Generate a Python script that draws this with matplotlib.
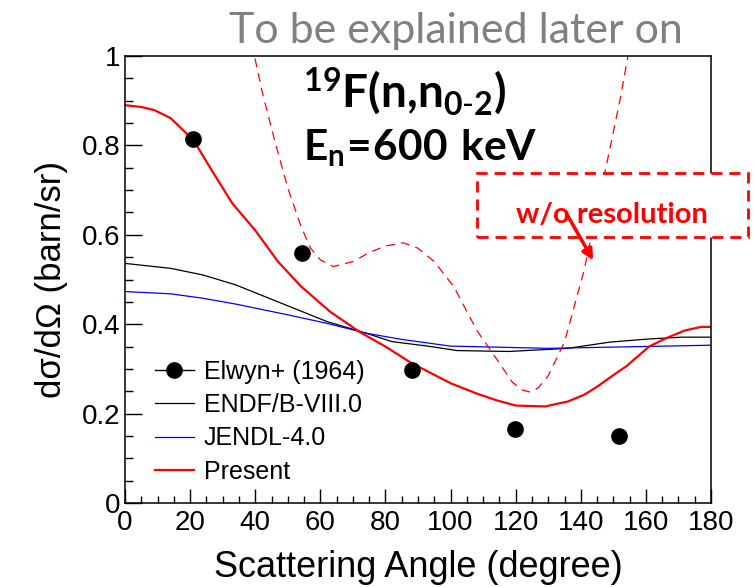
import matplotlib
matplotlib.use('Agg')
import matplotlib.pyplot as plt
from matplotlib.lines import Line2D
from matplotlib.patches import Rectangle
from matplotlib.ticker import MultipleLocator, FuncFormatter

plt.rcParams['font.family'] = ['Liberation Sans', 'DejaVu Sans']
plt.rcParams['mathtext.fontset'] = 'custom'
plt.rcParams['mathtext.rm'] = 'Lato'
plt.rcParams['mathtext.bf'] = 'Lato:bold'

## Elwyn+ (1964) experimental points
elwyn_ang = [21.0, 54.5, 88.1, 119.8, 151.6]
elwyn_xs = [0.814, 0.559, 0.297, 0.166, 0.149]

## ENDF/B-VIII.0
endf_ang = [0, 14, 24, 34, 48, 62, 74, 82, 93, 102, 118, 131, 136, 149, 161, 171, 180]
endf_xs = [0.536, 0.525, 0.510, 0.488, 0.447, 0.406, 0.380, 0.361, 0.351, 0.341,
           0.339, 0.344, 0.346, 0.360, 0.367, 0.371, 0.371]

## JENDL-4.0
jendl_ang = [0, 14, 24, 34, 50, 62, 74, 85, 100, 130, 180]
jendl_xs = [0.473, 0.468, 0.458, 0.445, 0.421, 0.402, 0.380, 0.366, 0.351, 0.346, 0.353]

## Present (with resolution)
pres_ang = [0, 5, 9, 14, 21, 27, 33, 40, 47, 54, 63, 72, 80, 88, 100, 108, 114, 120,
            129, 136, 141, 145, 150, 154, 161, 166, 172, 177, 180]
pres_xs = [0.890, 0.886, 0.879, 0.861, 0.812, 0.740, 0.670, 0.610, 0.540, 0.485,
           0.428, 0.383, 0.350, 0.313, 0.268, 0.245, 0.230, 0.218, 0.216, 0.227,
           0.242, 0.260, 0.286, 0.306, 0.350, 0.368, 0.386, 0.394, 0.394]

## Present w/o resolution
nores_ang = [38, 42, 46, 50, 54, 57, 60, 64, 70, 75, 80, 85.5, 90, 95, 101, 108,
             115, 119, 122, 124.5, 127, 130, 135, 141, 145, 148, 152, 156]
nores_xs = [1.06, 0.924, 0.810, 0.705, 0.620, 0.570, 0.544, 0.529, 0.540, 0.560,
            0.575, 0.582, 0.570, 0.540, 0.484, 0.387, 0.313, 0.270, 0.253, 0.248,
            0.258, 0.285, 0.360, 0.520, 0.660, 0.760, 0.900, 1.06]


def make_plot():
    fig = plt.figure(figsize=(7.53, 5.87), dpi=100)
    ax = fig.add_axes([125 / 753, 1 - 503 / 587, 586 / 753, 447 / 587])

    ax.plot(endf_ang, endf_xs, '-', color='black', lw=0.9)
    ax.plot(jendl_ang, jendl_xs, '-', color='blue', lw=0.9)
    ax.plot(nores_ang, nores_xs, color='red', lw=0.9, ls=(0, (7, 5)))
    ax.plot(pres_ang, pres_xs, '-', color='red', lw=1.6)
    ax.plot(elwyn_ang, elwyn_xs, 'o', color='black', ms=11, ls='none', zorder=5)

    ax.set_xlim(0, 180)
    ax.set_ylim(0, 1)
    ax.xaxis.set_major_locator(MultipleLocator(20))
    ax.xaxis.set_minor_locator(MultipleLocator(5))
    ax.yaxis.set_major_locator(MultipleLocator(0.2))
    ax.yaxis.set_minor_locator(MultipleLocator(0.05))
    ax.yaxis.set_major_formatter(FuncFormatter(lambda v, p: '%g' % round(v, 2)))
    ax.tick_params(axis='both', which='both', direction='in', top=False, right=False,
                   labelsize=20, width=1.0)
    ax.tick_params(axis='x', which='major', length=10, pad=5)
    ax.tick_params(axis='x', which='minor', length=5)
    ax.tick_params(axis='y', which='major', length=12, pad=3)
    ax.tick_params(axis='y', which='minor', length=6)
    for s in ax.spines.values():
        s.set_linewidth(1.1)

    ax.set_xlabel('Scattering Angle (degree)', fontsize=26, labelpad=10)
    ax.set_ylabel('dσ/dΩ (barn/sr)', fontsize=25, labelpad=10)

    handles = [Line2D([], [], color='black', marker='o', ms=11, lw=1.0),
               Line2D([], [], color='black', lw=0.9),
               Line2D([], [], color='blue', lw=0.9),
               Line2D([], [], color='red', lw=1.6)]
    labels = ['Elwyn+ (1964)', 'ENDF/B-VIII.0', 'JENDL-4.0', 'Present']
    ax.legend(handles, labels, loc='upper left', bbox_to_anchor=(0.051, 0.32),
              frameon=False, fontsize=18, handlelength=1.55, handletextpad=0.4,
              labelspacing=0.37, borderpad=0, borderaxespad=0)

    ## reaction and energy labels
    ax.text(86.0, 0.883, r'$\mathbf{^{19}F(n{,}n_{0\text{-}2})}$', fontsize=33,
            ha='center', va='baseline')
    ax.text(90.7, 0.767, r'$\mathbf{E_n\!=\!600\ keV}$', fontsize=30.5,
            ha='center', va='baseline')

    ## w/o resolution box and arrow
    box = Rectangle((108.0, 0.594), 83.3, 0.145, facecolor='white', edgecolor='red',
                    lw=2.0, ls=(0, (4, 2.5)), clip_on=False, zorder=6)
    ax.add_patch(box)
    ax.text(149.5, 0.626, 'w/o resolution', color='red', fontsize=21, fontweight='bold',
            family='Lato', ha='center', va='baseline', zorder=7, clip_on=False)
    ax.annotate('', xy=(143.8, 0.543), xytext=(135.8, 0.645),
                arrowprops=dict(arrowstyle='-|>', color='red', lw=2.5,
                                mutation_scale=16, shrinkA=0, shrinkB=0),
                zorder=8, annotation_clip=False)

    fig.text(455.5 / 753, 1 - 43 / 587, 'To be explained later on', color='#808080',
             fontsize=31, family='Lato', ha='center', va='baseline')

    plt.savefig('out.png', dpi=100)


if __name__ == '__main__':
    make_plot()
